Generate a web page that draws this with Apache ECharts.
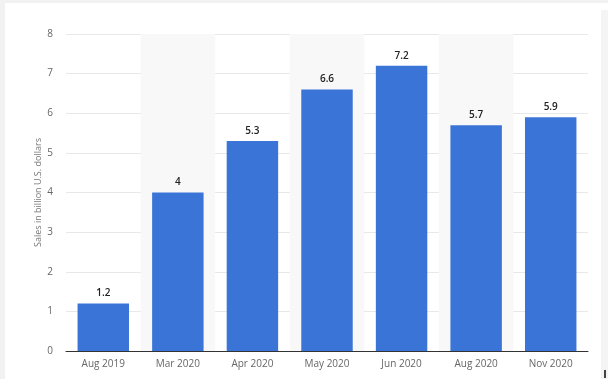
<!DOCTYPE html>
<html><head><meta charset="utf-8">
<script src="https://cdn.jsdelivr.net/npm/echarts@6/dist/echarts.min.js"></script>
<style>html,body{margin:0;padding:0;background:#fff}#c{width:608px;height:379px}</style>
</head><body><div id="c"></div>
<script>
const categories = ['Aug 2019','Mar 2020','Apr 2020','May 2020','Jun 2020','Aug 2020','Nov 2020'];
const sales = [1.2, 4, 5.3, 6.6, 7.2, 5.7, 5.9];
const yTicks = [0,1,2,3,4,5,6,7,8];

const chart = echarts.init(document.getElementById('c'), null, {renderer:'canvas'});
chart.setOption({
  animation: false,
  backgroundColor: '#fff',
  graphic: [
    {type:'rect', left:0, top:0, shape:{width:5, height:379}, style:{fill:'#f2f2f2'}, silent:true},
    {type:'rect', left:0, top:0, shape:{width:608, height:3}, style:{fill:'#f2f2f2'}, silent:true},
    {type:'rect', right:0, top:10, shape:{width:7, height:369}, style:{fill:'#f4f4f4'}, silent:true},
    {type:'rect', left:604, top:370, shape:{width:2, height:8}, style:{fill:'#444'}, silent:true}
  ],
  grid: {left:66, right:20, top:34, bottom:28, containLabel:false},
  xAxis: {
    type:'category', data: categories,
    axisLine:{show:true, lineStyle:{color:'#333', width:1}},
    axisTick:{show:false},
    axisLabel:{color:'#666', fontSize:10, fontFamily:'Open Sans, DejaVu Sans, sans-serif', margin:8},
    splitArea:{show:true, areaStyle:{color:['rgba(255,255,255,0)','#f8f8f8']}}
  },
  yAxis: {
    type:'value', min:0, max:8, interval:1,
    name:'Sales in billion U.S. dollars', nameLocation:'middle', nameGap:23, nameMoveOverlap:false,
    nameTextStyle:{color:'#777', fontSize:9, fontFamily:'Open Sans, DejaVu Sans, sans-serif'},
    axisLine:{show:false}, axisTick:{show:false},
    axisLabel:{color:'#666', fontSize:10, margin:13, fontFamily:'Open Sans, DejaVu Sans, sans-serif',
      formatter: v => yTicks.includes(v) ? String(v) : ''},
    splitLine:{show:true, lineStyle:{color:'#e8e8e8', width:1}}
  },
  series: [{
    type:'bar', data: sales, barWidth:'69%',
    itemStyle:{color:'#3b74d7'},
    label:{show:true, position:'top', distance:5, color:'#222', fontSize:10, fontWeight:600,
      fontFamily:'Open Sans, DejaVu Sans, sans-serif'}
  }]
});
</script></body></html>
